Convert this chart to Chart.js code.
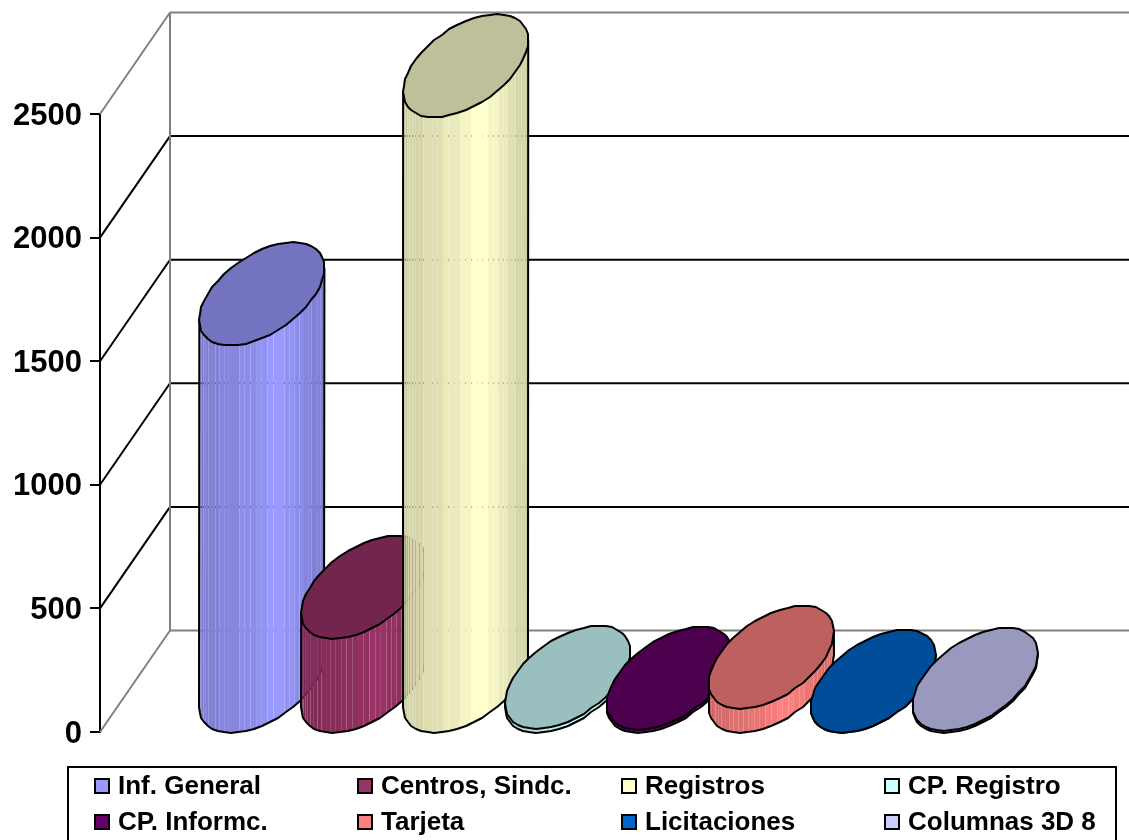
<!DOCTYPE html>
<html><head><meta charset="utf-8">
<style>html,body{margin:0;padding:0;background:#fff;overflow:hidden}canvas{display:block}</style>
<script src="https://cdn.jsdelivr.net/npm/chart.js@4/dist/chart.umd.min.js"></script>
</head><body><canvas id="c" width="1129" height="840"></canvas>
<script>
const categories = [''];
const seriesNames = ['Inf. General','Centros, Sindc.','Registros','CP. Registro','CP. Informc.','Tarjeta','Licitaciones','Columnas 3D 8'];
const seriesValues = [1567, 380, 2490, 16, 12, 97, 0, 8];
const seriesColors = ['#9999FF','#993366','#FFFFCC','#CCFFFF','#660066','#FF8080','#0066CC','#CCCCFF'];
const yTicks = [0, 500, 1000, 1500, 2000, 2500];
const legendOrder = [[0,1,2,3],[4,5,6,7]];

const DEPTH_X = 70, DEPTH_Y = 101.5, FONT = '"Liberation Sans", Arial, sans-serif';

function rgb(hex, f){
  const n = parseInt(hex.slice(1),16);
  return `rgb(${Math.round((n>>16&255)*f)},${Math.round((n>>8&255)*f)},${Math.round((n&255)*f)})`;
}
function line(ctx,x1,y1,x2,y2,color,w){
  ctx.beginPath();ctx.moveTo(x1,y1);ctx.lineTo(x2,y2);ctx.strokeStyle=color;ctx.lineWidth=w;ctx.stroke();
}
const wallPlugin = {
  id:'wall',
  beforeDatasetsDraw(chart){
    const {ctx,scales:{y},chartArea:ca}=chart;
    ctx.save();
    yTicks.forEach(v=>{
      const p=y.getPixelForValue(v);
      const edge=(v===0||v===2500);
      const col=edge?'#808080':'#000';
      line(ctx,ca.left,p,ca.left+DEPTH_X,p-DEPTH_Y,col,2);
      line(ctx,ca.left+DEPTH_X,p-DEPTH_Y,chart.width,p-DEPTH_Y,col,2);
    });
    const t=y.getPixelForValue(2500), b=y.getPixelForValue(0);
    line(ctx,ca.left+DEPTH_X,t-DEPTH_Y,ca.left+DEPTH_X,b-DEPTH_Y,'#808080',2);
    ctx.restore();
  }
};
const cylinderPlugin = {
  id:'cylinders',
  afterDatasetsDraw(chart){
    const {ctx,scales:{y}}=chart;
    const y0=y.getPixelForValue(0);
    chart.data.datasets.forEach((ds,i)=>{
      const bar=chart.getDatasetMeta(i).data[0];
      const a=bar.width/2*1.228, c=26, b=44.5;
      const cx=bar.x+DEPTH_X/2;
      const topC=bar.y-DEPTH_Y/2, baseC=y0-DEPTH_Y/2;
      const px=t=>cx+a*Math.cos(t);
      const py=(t,cy)=>cy-c*Math.cos(t)-b*Math.sin(t);
      const color=ds.faceColor;
      ctx.save();
      const n=34;
      for(let k=0;k<n;k++){
        const t1=Math.PI+Math.PI*k/n, t2=Math.PI+Math.PI*(k+1)/n;
        const u=(px((t1+t2)/2)-(cx-a))/(2*a);
        const peak=0.63;
        const d=u<peak?(peak-u)/peak:(u-peak)/(1-peak);
        const f=1-0.2*d;
        ctx.beginPath();
        ctx.moveTo(px(t1),py(t1,topC));
        ctx.lineTo(px(t2),py(t2,topC));
        ctx.lineTo(px(t2),py(t2,baseC));
        ctx.lineTo(px(t1),py(t1,baseC));
        ctx.closePath();
        ctx.fillStyle=rgb(color,Math.round(f*24)/24);
        ctx.fill();
      }
      ctx.lineJoin='round';
      ctx.beginPath();
      ctx.moveTo(px(Math.PI),py(Math.PI,topC));
      for(let k=0;k<=24;k++){
        const t=Math.PI+Math.PI*k/24;
        ctx.lineTo(Math.round(px(t)),Math.round(py(t,baseC)));
      }
      ctx.lineTo(px(0),py(0,topC));
      ctx.strokeStyle='#000';ctx.lineWidth=2;ctx.stroke();
      ctx.beginPath();
      for(let k=0;k<48;k++){
        const t=2*Math.PI*k/48;
        const X=Math.round(px(t)),Y=Math.round(py(t,topC));
        k?ctx.lineTo(X,Y):ctx.moveTo(X,Y);
      }
      ctx.closePath();
      ctx.fillStyle=rgb(color,0.75);ctx.fill();
      ctx.strokeStyle='#000';ctx.lineWidth=2;ctx.stroke();
      ctx.restore();
    });
  },
  afterDraw(chart){
    const {ctx}=chart;
    ctx.save();
    ctx.strokeStyle='#000';ctx.lineWidth=2;
    ctx.strokeRect(68,767,1048,100);
    ctx.font='bold 26px '+FONT;
    ctx.textBaseline='middle';ctx.textAlign='left';
    const colX=[95,358,622,885], rowY=[786,822];
    legendOrder.forEach((row,r)=>row.forEach((idx,k)=>{
      ctx.fillStyle=seriesColors[idx];
      ctx.fillRect(colX[k],rowY[r]-7,14,14);
      ctx.strokeRect(colX[k],rowY[r]-7,14,14);
      ctx.fillStyle='#000';
      ctx.fillText(seriesNames[idx],colX[k]+23,rowY[r]+1);
    }));
    ctx.restore();
  }
};
new Chart(document.getElementById('c'),{
  type:'bar',
  data:{labels:categories,datasets:seriesNames.map((name,i)=>({
    label:name,data:[seriesValues[i]],faceColor:seriesColors[i],
    backgroundColor:'transparent',borderWidth:0,
    barPercentage:1,categoryPercentage:0.843
  }))},
  options:{
    responsive:false,animation:false,
    layout:{padding:{top:114,bottom:108,left:0,right:62}},
    plugins:{legend:{display:false},tooltip:{enabled:false},title:{display:false}},
    scales:{
      x:{display:false},
      y:{
        min:0,max:2500,
        afterFit(s){s.width=100;},
        afterBuildTicks(s){s.ticks=yTicks.map(v=>({value:v}));},
        border:{color:'#000',width:2},
        grid:{drawOnChartArea:false,drawTicks:true,tickLength:10,color:'#000',lineWidth:2},
        ticks:{color:'#000',padding:8,labelOffset:2,callback:v=>String(v),font:{family:FONT,size:31,weight:'bold'}}
      }
    }
  },
  plugins:[wallPlugin,cylinderPlugin]
});
</script></body></html>
